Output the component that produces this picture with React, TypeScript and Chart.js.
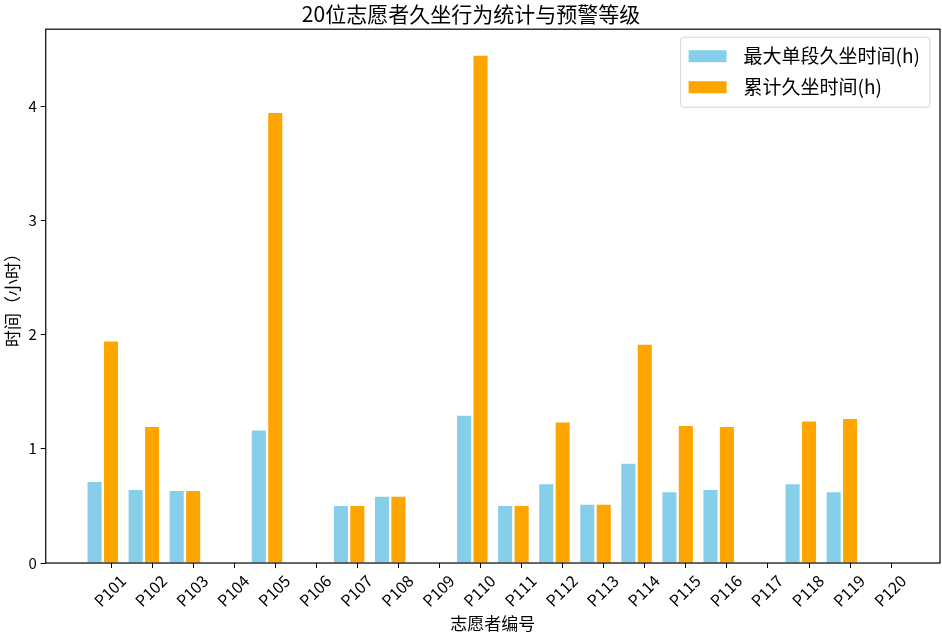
import { useEffect, useRef } from 'react';
import { Chart, registerables } from 'chart.js';

Chart.register(...registerables);

const participants = [
  'P101', 'P102', 'P103', 'P104', 'P105', 'P106', 'P107', 'P108', 'P109', 'P110',
  'P111', 'P112', 'P113', 'P114', 'P115', 'P116', 'P117', 'P118', 'P119', 'P120',
];
const maxSessionHours = [
  0.72, 0.65, 0.64, 0, 1.17, 0, 0.51, 0.59, 0, 1.3,
  0.51, 0.7, 0.52, 0.88, 0.63, 0.65, 0, 0.7, 0.63, 0,
];
const totalSedentaryHours = [
  1.95, 1.2, 0.64, 0, 3.95, 0, 0.51, 0.59, 0, 4.45,
  0.51, 1.24, 0.52, 1.92, 1.21, 1.2, 0, 1.25, 1.27, 0,
];
const yTicks = [0, 1, 2, 3, 4];
const seriesLabels = ['最大单段久坐时间(h)', '累计久坐时间(h)'];
const seriesColors = ['#87CEEB', '#FFA500'];

const FONT = "'Noto Sans CJK SC', 'DejaVu Sans', sans-serif";
const BAR_W = 0.4;

// matplotlib-style box around the plot and an in-axes legend
const framePlugin = {
  id: 'frame',
  afterDatasetsDraw(chart: any) {
    const { ctx, chartArea: a } = chart;
    ctx.save();
    ctx.strokeStyle = '#000';
    ctx.lineWidth = 1.2;
    ctx.strokeRect(a.left, a.top, a.right - a.left, a.bottom - a.top);

    ctx.font = `19px ${FONT}`;
    const textW = Math.max(...seriesLabels.map((l) => ctx.measureText(l).width));
    const boxW = 8 + 38 + 17 + textW + 10;
    const boxH = 70;
    const bx = a.right - 10 - boxW;
    const by = a.top + 8;
    ctx.globalAlpha = 0.8;
    ctx.fillStyle = '#fff';
    ctx.strokeStyle = '#ccc';
    ctx.lineWidth = 1;
    ctx.beginPath();
    ctx.roundRect(bx, by, boxW, boxH, 3);
    ctx.fill();
    ctx.stroke();
    ctx.globalAlpha = 1;
    seriesLabels.forEach((label, i) => {
      const cy = by + 19 + i * 31;
      ctx.fillStyle = seriesColors[i];
      ctx.fillRect(bx + 8, cy - 6, 38, 12);
      ctx.fillStyle = '#000';
      ctx.textBaseline = 'middle';
      ctx.textAlign = 'left';
      ctx.fillText(label, bx + 8 + 38 + 17, cy);
    });
    ctx.restore();
  },
};

export default function App() {
  const canvasRef = useRef<HTMLCanvasElement>(null);

  useEffect(() => {
    if (!canvasRef.current) return;

    const all = [...maxSessionHours, ...totalSedentaryHours];
    const yMax = Math.max(...all) * 1.05;
    const left = -BAR_W - BAR_W / 2;
    const right = participants.length - 1 + BAR_W / 2;
    const margin = (right - left) * 0.05;

    const chart = new Chart(canvasRef.current, {
      type: 'bar',
      data: {
        datasets: [
          {
            label: seriesLabels[0],
            data: maxSessionHours.map((v, i) => ({ x: i - BAR_W, y: v })),
            backgroundColor: seriesColors[0],
            borderColor: '#fff',
            borderWidth: 1.5,
            grouped: false,
            categoryPercentage: 1,
            barPercentage: 1,
          },
          {
            label: seriesLabels[1],
            data: totalSedentaryHours.map((v, i) => ({ x: i, y: v })),
            backgroundColor: seriesColors[1],
            borderColor: '#fff',
            borderWidth: 1.5,
            grouped: false,
            categoryPercentage: 1,
            barPercentage: 1,
          },
        ],
      },
      options: {
        animation: false,
        responsive: true,
        maintainAspectRatio: false,
        layout: { padding: { left: 2, right: 2, top: 0, bottom: 3 } },
        plugins: {
          legend: { display: false },
          tooltip: { enabled: false },
          title: {
            display: true,
            text: '20位志愿者久坐行为统计与预警等级',
            color: '#000',
            font: { family: FONT, size: 21, weight: 'normal' },
            padding: { top: 1, bottom: 3 },
          },
        },
        scales: {
          x: {
            type: 'linear',
            offset: false,
            min: left - margin,
            max: right + margin,
            afterBuildTicks: (scale: any) => {
              scale.ticks = participants.map((_, i) => ({ value: i }));
            },
            ticks: {
              autoSkip: false,
              minRotation: 45,
              maxRotation: 45,
              labelOffset: 12,
              padding: 3,
              color: '#000',
              font: { family: FONT, size: 16 },
              callback: (v: any) => participants[v as number],
            },
            grid: { offset: false, drawOnChartArea: false, drawTicks: true, tickLength: 5, color: '#000' },
            border: { display: false },
            title: {
              display: true,
              text: '志愿者编号',
              color: '#000',
              font: { family: FONT, size: 17 },
              padding: { top: 0, bottom: 0 },
            },
          },
          y: {
            min: 0,
            max: yMax,
            afterBuildTicks: (scale: any) => {
              scale.ticks = yTicks.map((v) => ({ value: v }));
            },
            ticks: {
              color: '#000',
              padding: 4,
              font: { family: FONT, size: 15 },
            },
            grid: { drawOnChartArea: false, drawTicks: true, tickLength: 5, color: '#000' },
            border: { display: false },
            title: {
              display: true,
              text: '时间（小时）',
              color: '#000',
              font: { family: FONT, size: 17 },
              padding: { top: 0, bottom: 2 },
            },
          },
        },
      },
      plugins: [framePlugin],
    });

    return () => {
      chart.destroy();
    };
  }, []);

  return (
    <div style={{ position: 'absolute', left: 0, top: 0, width: 942, height: 637, background: '#fff' }}>
      <canvas ref={canvasRef}></canvas>
    </div>
  );
}
